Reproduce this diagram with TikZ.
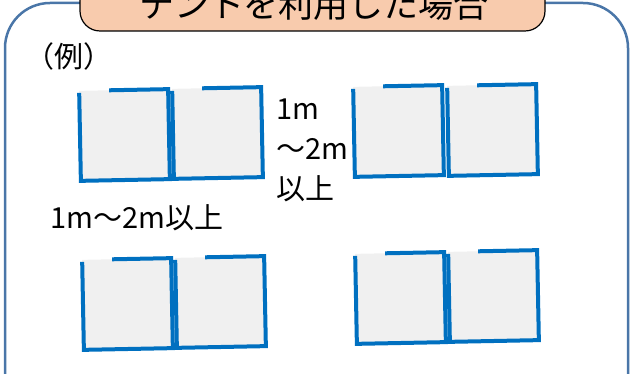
\documentclass[tikz,border=0pt]{standalone}
\usepackage{fontspec}
\setmainfont{Noto Sans CJK JP}
\usepackage{tikz}
\usetikzlibrary{positioning}
\usepackage{xcolor}
\definecolor{panelblue}{RGB}{74,118,168}
\definecolor{tabpeach}{RGB}{248,203,173}
\definecolor{tentblue}{RGB}{0,112,192}
\definecolor{tentgray}{RGB}{240,240,240}
\tikzstyle{tentline} = [line width=4pt, draw=tentblue, line join=miter]
\tikzstyle{label} = [inner sep=0pt, font=\fontsize{29}{40}\selectfont, align=left]

% one tent seen from above, top left corner at (#1,#2)
\newcommand{\tentbox}[2]{%
  \begin{scope}[shift={(#1,#2)}, rotate around={1.1:(44.5,45)}]
    \fill[tentgray] (0,0) rectangle (89,90);
    \draw[tentline] (30,0) -- (89,0) -- (89,90) -- (0,90) -- (0,2);
  \end{scope}}

\begin{document}
\begin{tikzpicture}[x=1pt, y=-1pt]
\useasboundingbox (0,0) rectangle (630,374);
\clip (0,0) rectangle (630,374);

% panel and title tab
\draw[panelblue, line width=2.5pt, rounded corners=45pt] (5,3) rectangle (628,430);
\draw[black, line width=1.2pt, fill=tabpeach, rounded corners=20pt] (80,-30) rectangle (545,31);
\node[inner sep=0pt, font=\fontsize{35}{40}\selectfont] (title) at (314,4) {テントを利用した場合};

\node[label, anchor=west] (example) at (25,56) {（例）};

% tents
\tentbox{80}{90}
\tentbox{173}{88}
\tentbox{354}{86}
\tentbox{448}{85}
\tentbox{83}{259}
\tentbox{176}{257}
\tentbox{356}{253}
\tentbox{449}{251}

% distances
\node[label, anchor=west] (gapv) at (276,150) {1m\\～2m\\以上};
\node[label, anchor=west] (gaph) at (50,218) {1m～2m以上};
\end{tikzpicture}
\end{document}
